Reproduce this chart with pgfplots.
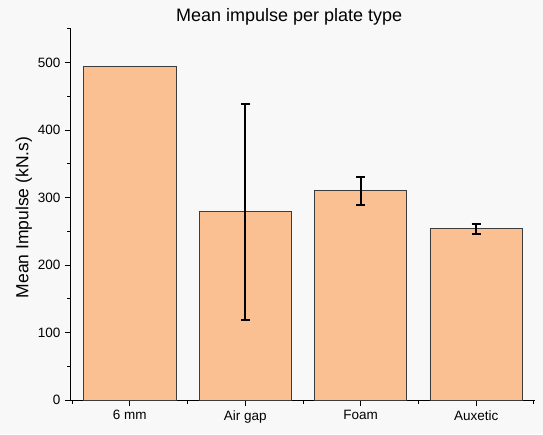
\documentclass[border=0pt]{standalone}
\usepackage{pgfplots}
\pgfplotsset{compat=1.18}
\usepackage{fontspec}
\setmainfont{Liberation Sans}
\definecolor{barfill}{RGB}{250,192,145}
\definecolor{baredge}{RGB}{60,60,60}
\definecolor{bg}{RGB}{248,248,248}

\begin{document}
\begin{tikzpicture}
  % fix the page to the reference's 543 x 434 frame (axis box at origin)
  \fill[bg] (-71pt,-34pt) rectangle (472pt,400pt);
  \useasboundingbox (-71pt,-34pt) rectangle (472pt,400pt);
  \begin{axis}[
      scale only axis,
      width=464pt, height=371pt,
      axis lines*=left,
      axis line style={-, line width=1pt},
      xmin=-0.51, xmax=3.51,
      ymin=0, ymax=550,
      xtick={0,1,2,3},
      xticklabels={6 mm, Air gap, Foam, Auxetic},
      minor xtick={-0.5,0.5,1.5,2.5,3.5},
      ytick={0,100,...,500},
      minor ytick={50,150,...,550},
      tick align=outside,
      major tick length=6pt,
      minor tick length=3.5pt,
      tick style={line width=1pt, black},
      /pgf/number format/assume math mode=true,
      tick label style={font=\fontsize{13.5}{15}\selectfont},
      yticklabel style={xshift=-1pt},
      xticklabel style={yshift=-1pt},
      ylabel={Mean Impulse (kN.s)},
      ylabel style={font=\fontsize{17.5}{19}\selectfont, yshift=-1pt, xshift=-3pt},
      title={Mean impulse per plate type},
      title style={font=\fontsize{18}{20}\selectfont, at={(0.47,1)}, anchor=base, yshift=1pt},
      bar width=0.8,
    ]
    \addplot[ybar, fill=barfill, draw=baredge, line width=0.8pt]
      coordinates {(0,494) (1,279) (2,310) (3,254)};
    \addplot[draw=none, mark=none, forget plot,
      error bars/.cd, y dir=both, y explicit,
      error bar style={draw=black, line width=1.8pt},
      error mark options={draw=black, rotate=90, mark size=4.5pt, line width=1.8pt}]
      coordinates {(1,279) +- (0,160) (2,310) +- (0,20.5) (3,254) +- (0,7.5)};
  \end{axis}
\end{tikzpicture}
\end{document}
